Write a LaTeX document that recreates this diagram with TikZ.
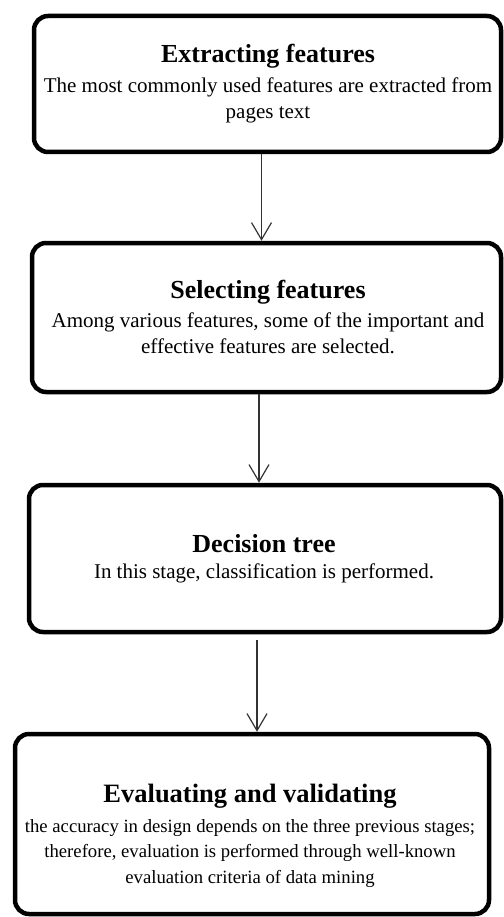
\documentclass[tikz,border=0pt]{standalone}
\usepackage{fontspec}
\setmainfont{Liberation Serif}
\usetikzlibrary{arrows.meta}
\begin{document}
\begin{tikzpicture}[x=1pt,y=-1pt,
  box/.style={draw, line width=4.5pt, rounded corners=14pt, inner sep=0pt},
  txt/.style={align=center, inner sep=0pt, anchor=north, font=\fontsize{21}{26}\selectfont},
  txtsmall/.style={align=center, inner sep=0pt, anchor=north, font=\fontsize{18.7}{25.5}\selectfont},
  ttl/.style={},
  arr/.style={draw=black!80, line width=1.2pt, -{Straight Barb[length=17pt,width=20pt,line width=1.2pt]}}]
\useasboundingbox (0,0) rectangle (503,917);
% boxes
\node[box, minimum width=467pt, minimum height=136pt] (b1) at (267.5,84) {};
\node[box, minimum width=469pt, minimum height=149pt] (b2) at (266.5,317.5) {};
\node[box, minimum width=472pt, minimum height=147pt] (b3) at (265,558.5) {};
\node[box, minimum width=474pt, minimum height=180pt] (b4) at (252,824) {};
% texts
\node[txt] (t1) at (268,43.7) {{\fontsize{26}{30}\selectfont\bfseries Extracting features}\\[4pt]
  The most commonly used features are extracted from\\pages text};
\node[txt] (t2) at (268,280) {{\fontsize{26}{30}\selectfont\bfseries Selecting features}\\[3pt]
  Among various features, some of the important and\\effective features are selected.};
\node[txt] (t3) at (264,534) {{\fontsize{26}{30}\selectfont\bfseries Decision tree}\\[0pt]
  In this stage, classification is performed.};
\node[txtsmall] (t4) at (250,783.7) {{\fontsize{26.5}{30}\selectfont\bfseries Evaluating and validating}\\[4.5pt]
  the accuracy in design depends on the three previous stages;\\
  therefore, evaluation is performed through well-known\\
  evaluation criteria of data mining};
% connectors
\draw[arr] ([xshift=-6pt]b1.south) -- ([xshift=-6pt]b1.south |- b2.north);
\draw[arr] ([xshift=-7.5pt]b2.south) -- ([xshift=-7.5pt]b2.south |- b3.north);
\coordinate (a3s) at ([xshift=-8pt,yshift=-6pt]b3.south);
\draw[arr] (a3s) -- (a3s |- b4.north);
\end{tikzpicture}
\end{document}
